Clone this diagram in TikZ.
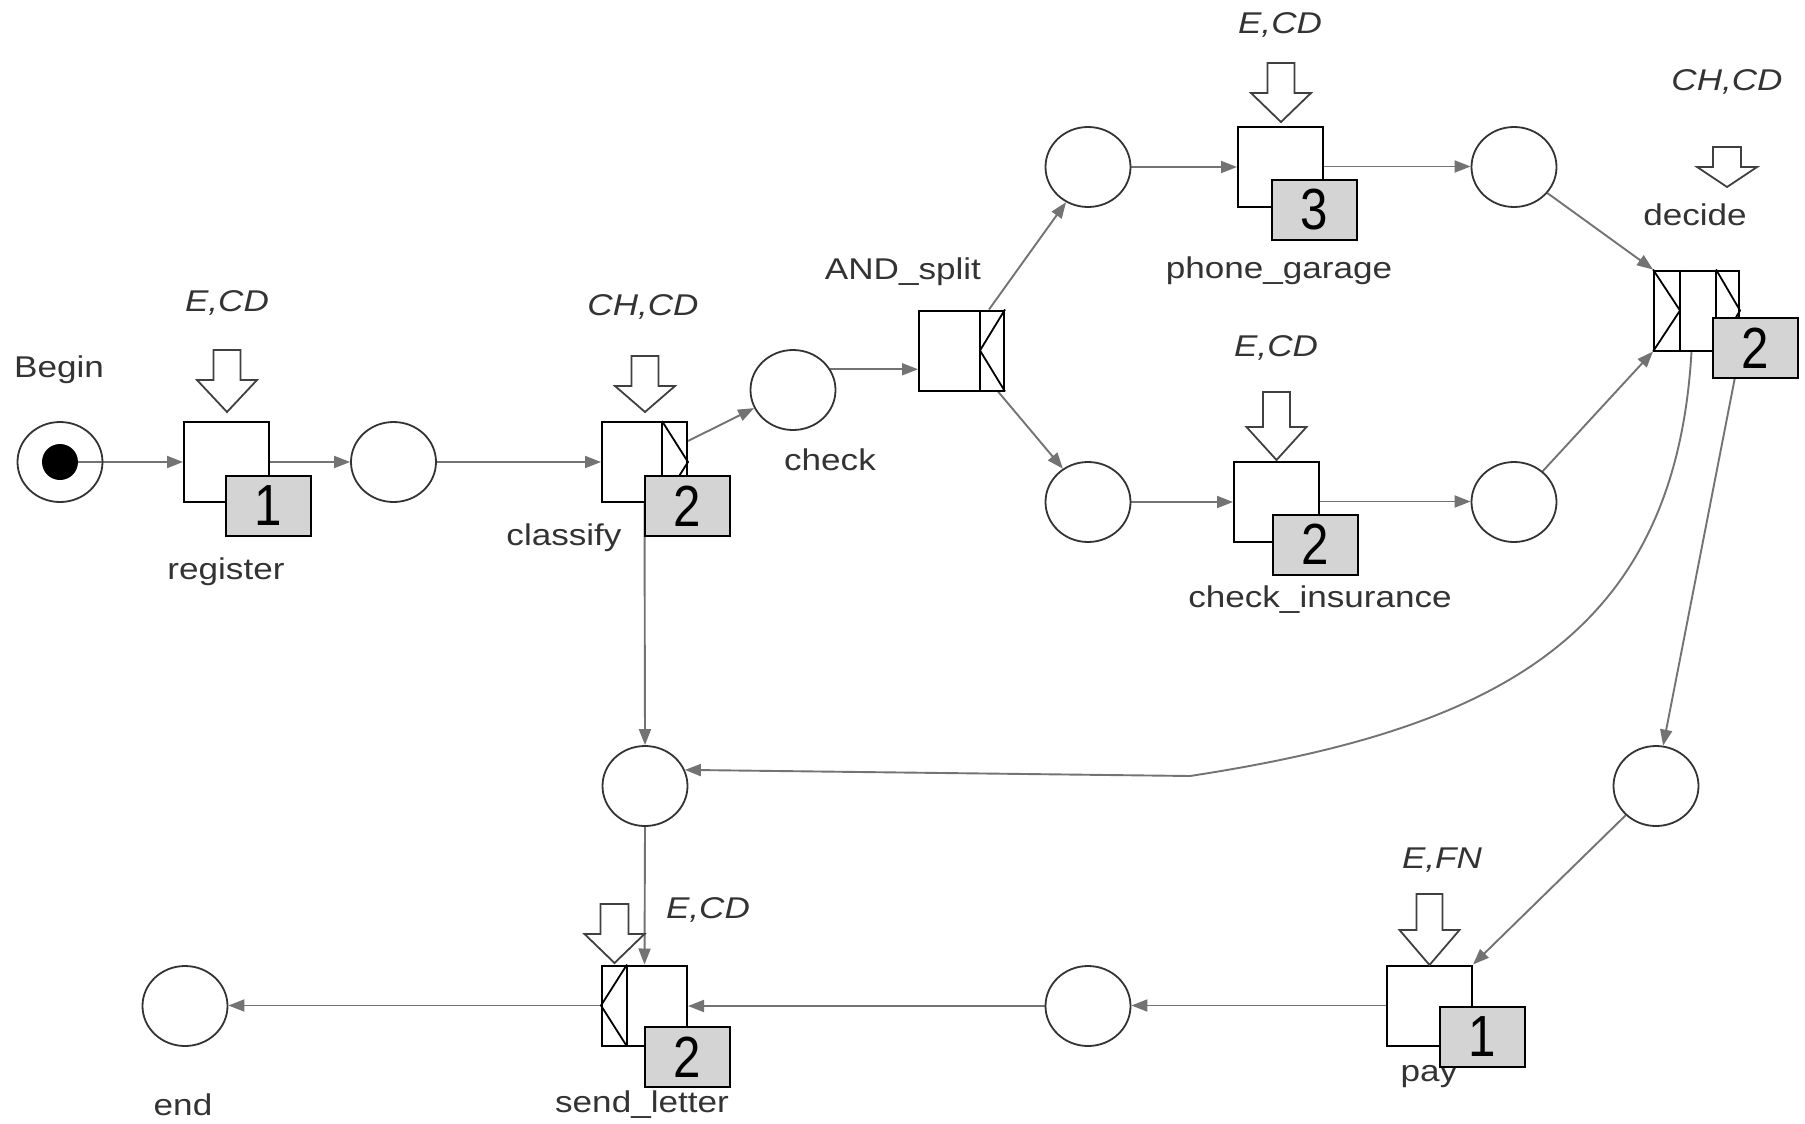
\documentclass[tikz,border=0pt]{standalone}
\usepackage{fontspec}
\setmainfont[FakeStretch=1.17]{Liberation Sans}
\newfontfamily\digitfont[FakeStretch=0.85]{Liberation Sans}
\usetikzlibrary{shapes.geometric,arrows.meta,calc,backgrounds}
\newcommand\hollowarr[5]{%
  \draw[blkarr] ({#1-#3},{#2-#4-#5}) -- ({#1+#3},{#2-#4-#5}) -- ({#1+#3},{#2-#5}) -- ({#1+30},{#2-#5}) -- (#1,#2) -- ({#1-30},{#2-#5}) -- ({#1-#3},{#2-#5}) -- cycle;}
\tikzset{
  place/.style={ellipse, draw=black!80, line width=0.9pt, minimum width=42.5pt, minimum height=40pt, inner sep=0pt},
  trans/.style={rectangle, draw=black, line width=1pt, fill=white, minimum width=42.5pt, minimum height=40pt, inner sep=0pt},
  wbox/.style={rectangle, draw=black, line width=1pt, fill=black!17, minimum width=42.5pt, minimum height=30pt, inner sep=0pt, font=\digitfont\fontsize{29pt}{30pt}\selectfont},
  conn/.style={draw=black!55, line width=0.95pt, -{Triangle[length=8pt,width=6pt]}},
  deco/.style={draw=black, line width=0.9pt},
  blkarr/.style={draw=black!75, line width=0.9pt, fill=white, line join=miter},
  txt/.style={text=black!80, inner sep=0pt},
  res/.style={txt, font=\itshape\fontsize{15pt}{18pt}\selectfont}
}
\begin{document}
\begin{tikzpicture}[x=0.5pt, y=-0.5pt, font=\fontsize{15pt}{18pt}\selectfont]
\useasboundingbox (0,0) rectangle (1805,1124);

% places
\node[place] (begin) at (60,462) {};
\node[place] (p1) at (393.5,462) {};
\node[place] (check) at (793,390) {};
\node[place] (pu1) at (1088,167) {};
\node[place] (pu2) at (1514,167) {};
\node[place] (pl1) at (1088,502) {};
\node[place] (pl2) at (1514,502) {};
\node[place] (merge) at (645,786) {};
\node[place] (pr) at (1656,786) {};
\node[place] (pb) at (1088,1006) {};
\node[place] (endp) at (185,1006) {};

% transitions
\node[trans] (register) at (226.5,462) {};
\node[trans] (classify) at (644.5,462) {};
\node[trans] (andsplit) at (961.5,350.5) {};
\node[trans] (phone) at (1280.5,166.5) {};
\node[trans] (checkins) at (1276.5,501.5) {};
\node[trans] (decide) at (1696.5,310.5) {};
\node[trans] (pay) at (1429.5,1005.5) {};
\node[trans] (sendl) at (644.5,1005.5) {};

% split / join decorators
\draw[deco] ($(classify.north east)+(-26,0)$) -- ($(classify.south east)+(-26,0)$);
\draw[deco] ($(classify.north east)+(-26,0)$) -- (classify.east) -- ($(classify.south east)+(-26,0)$);
\draw[deco] ($(andsplit.north east)+(-25,0)$) -- ($(andsplit.south east)+(-25,0)$);
\draw[deco] (andsplit.north east) -- ($(andsplit.east)+(-25,0)$) -- (andsplit.south east);
\draw[deco] ($(decide.north west)+(27,0)$) -- ($(decide.south west)+(27,0)$);
\draw[deco] (decide.north west) -- ($(decide.west)+(27,0)$) -- (decide.south west);
\draw[deco] ($(decide.north east)+(-24,0)$) -- ($(decide.south east)+(-24,0)$);
\draw[deco] ($(decide.north east)+(-24,0)$) -- (decide.east) -- ($(decide.south east)+(-24,0)$);
\draw[deco] ($(sendl.north west)+(26,0)$) -- ($(sendl.south west)+(26,0)$);
\draw[deco] ($(sendl.north west)+(26,0)$) -- (sendl.west) -- ($(sendl.south west)+(26,0)$);

% token
\fill[black] (begin.center) circle (9pt);

% resource arrows
\hollowarr{227}{412}{13.5}{30}{32}
\hollowarr{645}{412}{13.5}{30}{26}
\hollowarr{1281}{122}{13.5}{30}{29}
\hollowarr{1276.5}{460}{13.5}{35}{33}
\hollowarr{1727}{187}{14}{20}{20}
\hollowarr{1429.5}{965}{13}{36}{35}
\hollowarr{614.5}{963}{14}{30}{29}

% texts
\node[txt] (tbegin) at (59,370) {Begin};
\node[res] (rregister) at (227,303) {E,CD};
\node[txt] (tregister) at (226,572) {register};
\node[res] (rclassify) at (643,307) {CH,CD};
\node[txt] (tclassify) at (564,538) {classify};
\node[txt] (tcheck) at (830,460) {check};
\node[txt] (tand) at (903,272) {AND\_split};
\node[res] (rphone) at (1280,25) {E,CD};
\node[txt] (tphone) at (1279,271) {phone\_garage};
\node[res] (rcheckins) at (1276,348) {E,CD};
\node[txt] (tcheckins) at (1320,600) {check\_insurance};
\node[res] (rdecide) at (1727,82) {CH,CD};
\node[txt] (tdecide) at (1695,215) {decide};
\node[res] (rpay) at (1442,860) {E,FN};
\node[txt] (tpay) at (1429,1077) {pay};
\node[res] (rsendl) at (708,910) {E,CD};
\node[txt] (tsendl) at (642,1105) {send\_letter};
\node[txt] (tend) at (183,1105) {end};

% work item boxes
\node[wbox] (registerw) at (268.5,506) {1};
\node[wbox] (classifyw) at (687,506) {2};
\node[wbox] (phonew) at (1314.5,209.5) {3};
\node[wbox] (checkinsw) at (1315.5,544.5) {2};
\node[wbox] (decidew) at (1755,348) {2};
\node[wbox] (payw) at (1482.5,1037) {1};
\node[wbox] (sendlw) at (687,1057) {2};

% connectors
\begin{scope}[on background layer]
\fill[white] (0,0) rectangle (1805,1124);
\coordinate (bend) at (1190,776);
\draw[conn] (begin.center) -- (register.west);
\draw[conn] (register.east) -- (p1.west);
\draw[conn] (p1.east) -- (classify.west);
\draw[conn] ($(classify.east)+(0,-21)$) -- (check.205);
\draw[conn] (check.29) -- (check.29 -| andsplit.west);
\draw[conn] ($(andsplit.north east)+(-16,0)$) -- (pu1.238);
\draw[conn] ($(andsplit.south east)+(-7,0)$) -- (pl1.127);
\draw[conn] (pu1.east) -- (pu1.east -| phone.west);
\draw[conn] (phone.east) -- (phone.east -| pu2.west);
\draw[conn] (pl1.east) -- (pl1.east -| checkins.west);
\draw[conn] (checkins.east) -- (checkins.east -| pl2.west);
\draw[conn] (pu2.-38) -- (decide.north west);
\draw[conn] (pl2.47) -- (decide.south west);
\draw[conn] (decide.south east) -- (pr.80);
\draw[conn] ($(decide.south)+(-5,0)$) .. controls (1675,640) and (1490,730) .. (bend) -- (merge.22);
\draw[conn] (pr.224) -- (pay.north east);
\draw[conn] (pay.west) -- (pay.west -| pb.east);
\draw[conn] (pb.west) -- (pb.west -| sendl.east);
\draw[conn] (sendl.west) -- (sendl.west -| endp.east);
\draw[conn] (classify.south) -- (merge.north);
\draw[conn] (merge.south) -- (sendl.north);
\end{scope}
\end{tikzpicture}
\end{document}
